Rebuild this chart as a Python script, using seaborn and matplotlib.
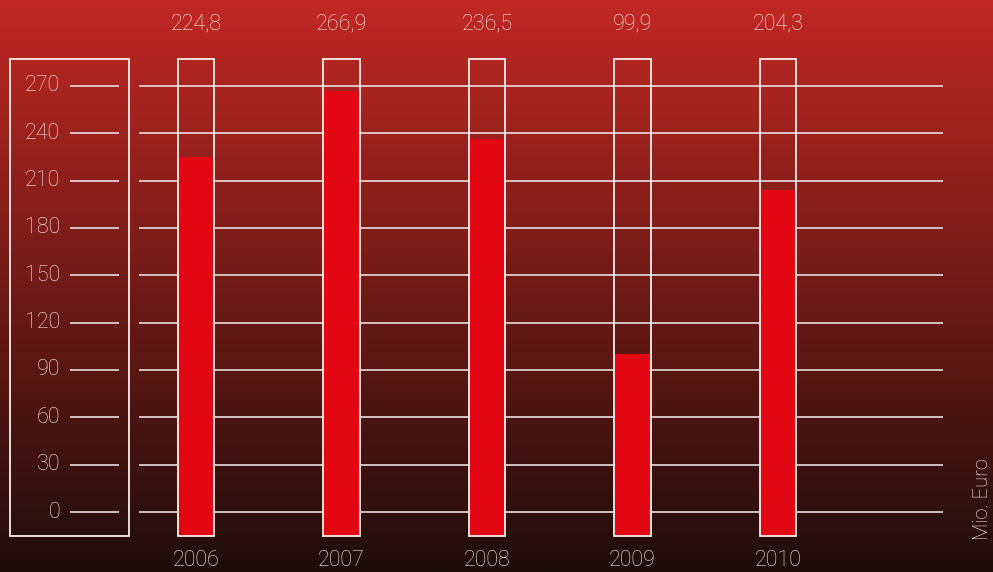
import numpy as np
import pandas as pd
import matplotlib
matplotlib.use("Agg")
import matplotlib.pyplot as plt
import seaborn as sns
from matplotlib.patches import Rectangle

# ---- data ----
years = ["2006", "2007", "2008", "2009", "2010"]
values = [224.8, 266.9, 236.5, 99.9, 204.3]
value_labels = ["224,8", "266,9", "236,5", "99,9", "204,3"]
y_ticks = [0, 30, 60, 90, 120, 150, 180, 210, 240, 270]
unit_label = "Mio. Euro"

sns.set_theme(style="white")
plt.rcParams['font.family'] = ['Roboto', 'DejaVu Sans']

W, H = 993, 572
fig = plt.figure(figsize=(W / 100, H / 100), dpi=100)
ax = fig.add_axes([0, 0, 1, 1])

# pixel -> data helpers (layout only)
X0, DX = 196, 145.5
Y0, DY = 512, 1.578
def px_x(p): return (p - X0) / DX
def px_y(p): return (Y0 - p) / DY

base = px_y(535.5)
box_top = px_y(59)

df = pd.DataFrame({"year": years, "value": values})
df["height"] = df["value"] - base
df["frame"] = box_top - base

TXT = "#f4eeee"
LINE = "#e8dede"
FS = 15.5

# background gradient
xl = (px_x(0), px_x(W))
yl = (px_y(H), px_y(0))
g = np.linspace(0, 1, 512)[:, None, None]
top = np.array([194, 40, 35]) / 255
bot = np.array([30, 13, 10]) / 255
img = top * (1 - g) + bot * g
ax.imshow(img, extent=[xl[0], xl[1], yl[0], yl[1]], aspect='auto',
          origin='upper', zorder=0)

# grid lines and tick segments
ax.hlines(y_ticks, px_x(139), px_x(943), color=LINE, lw=1.2, zorder=1)
ax.hlines(y_ticks, px_x(70), px_x(119), color=LINE, lw=1.2, zorder=1)

# red bars
sns.barplot(data=df, x="year", y="height", bottom=base, color="#e30613",
            width=0.242, saturation=1, linewidth=0, ax=ax, zorder=2)
# white frames
sns.barplot(data=df, x="year", y="frame", bottom=base, color=TXT, fill=False,
            width=0.254, linewidth=1.3, ax=ax, zorder=3)

# axis box
ax.add_patch(Rectangle((px_x(9.5), px_y(536)), px_x(129) - px_x(9.5),
                       px_y(59) - px_y(536), fill=False, ec=TXT, lw=1.3, zorder=3))

for t in y_ticks:
    ax.text(px_x(60), t, str(t), ha='right', va='center', color=TXT,
            fontsize=FS, fontweight='light', zorder=4)

for i, (yr, lab) in enumerate(zip(years, value_labels)):
    ax.text(i, px_y(24), lab, ha='center', va='center', color=TXT,
            fontsize=FS, fontweight='light', zorder=4)
    ax.text(i, px_y(560), yr, ha='center', va='center', color=TXT,
            fontsize=FS, fontweight='light', zorder=4)

ax.text(px_x(983), px_y(499), unit_label, rotation=90, ha='center', va='center',
        color=TXT, fontsize=14.5, fontweight='light', zorder=4)

ax.set_xlim(xl)
ax.set_ylim(yl)
ax.axis('off')

fig.savefig("out.png", dpi=100)
